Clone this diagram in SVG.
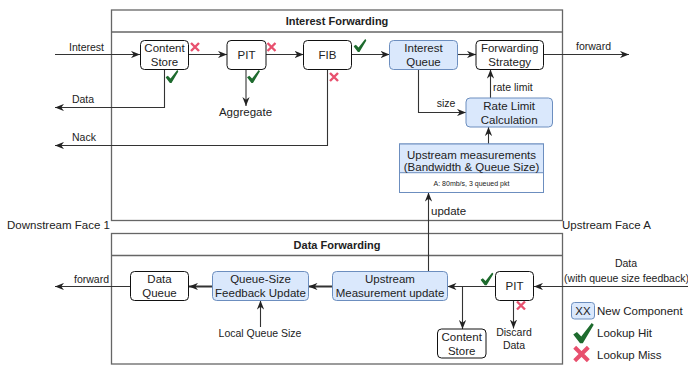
<svg xmlns="http://www.w3.org/2000/svg" width="688" height="365" viewBox="0 0 688 365">
<style>
text{font-family:"Liberation Sans",Arial,sans-serif;fill:#222}
.t{font-size:11.5px;text-anchor:middle}
.lb{font-size:10.5px}
.ttl{font-size:11px;font-weight:bold;text-anchor:middle}
.frame{fill:#fff;stroke:#666;stroke-width:1.3}
.n{fill:#fff;stroke:#111;stroke-width:1}
.b{fill:#dae8fc;stroke:#6c8ebf;stroke-width:1}
.c{fill:none;stroke:#333;stroke-width:1.1;marker-end:url(#arr)}
.cn{fill:none;stroke:#333;stroke-width:1.1}
.ck{fill:none;stroke:#333;stroke-width:2;marker-end:url(#arr)}
</style>
<defs>
<marker id="arr" viewBox="0 0 10 8" refX="10" refY="4" markerWidth="9" markerHeight="7.5" markerUnits="userSpaceOnUse" orient="auto">
<path d="M0,0 L10,4 L0,8 L3,4 Z" fill="#222"/>
</marker>
<symbol id="chk" viewBox="0 0 10 10">
<path d="M0,5.6 L1.8,4.4 L3.9,6.6 L9,0 L10,0.9 L4.6,10 L3.4,10 Z" fill="#1e6b2e"/>
</symbol>
<symbol id="x" viewBox="0 0 10 10">
<path d="M1,1 L9,9 M9,1 L1,9" stroke="#e8506e" stroke-width="2.4" stroke-linecap="butt"/>
</symbol>
</defs>
<rect width="688" height="365" fill="#fff"/>

<g id="interest-forwarding-frame">
<rect class="frame" x="111.5" y="10" width="451" height="210.5"/>
<line x1="111.5" y1="32" x2="562.5" y2="32" stroke="#666" stroke-width="1.3"/>
<text class="ttl" x="337" y="25">Interest Forwarding</text>
</g>
<g id="data-forwarding-frame">
<rect class="frame" x="111.5" y="233.5" width="451" height="130.5"/>
<line x1="111.5" y1="255.5" x2="562.5" y2="255.5" stroke="#666" stroke-width="1.3"/>
<text class="ttl" x="337" y="249">Data Forwarding</text>
</g>
<text x="7" y="229" style="font-size:11.5px">Downstream Face 1</text>
<text x="562" y="229" style="font-size:11.5px">Upstream Face A</text>

<g id="connectors">
<line class="c" x1="55" y1="54.5" x2="140" y2="54.5"/>
<line class="c" x1="188.5" y1="54.5" x2="227" y2="54.5"/>
<line class="c" x1="266" y1="54.5" x2="303.5" y2="54.5"/>
<line class="c" x1="351.5" y1="54.5" x2="389.5" y2="54.5"/>
<line class="c" x1="457.5" y1="54.5" x2="476" y2="54.5"/>
<line class="c" x1="543.5" y1="54.5" x2="629" y2="54.5"/>
<polyline class="c" points="164.5,69.5 164.5,107.5 55,107.5"/>
<line class="c" x1="246" y1="69.5" x2="246" y2="106"/>
<polyline class="c" points="327.5,69.5 327.5,145.5 55,145.5"/>
<polyline class="c" points="418.5,69.5 418.5,112.5 466,112.5"/>
<line class="c" x1="490.5" y1="98" x2="490.5" y2="69.5"/>
<line class="c" x1="488.5" y1="144" x2="488.5" y2="127"/>
<line class="c" x1="428.5" y1="271.5" x2="428.5" y2="192.5"/>
<line class="c" x1="688" y1="286.5" x2="534" y2="286.5"/>
<line class="c" x1="495.5" y1="286.5" x2="447.5" y2="286.5"/>
<line class="c" x1="462.5" y1="286.5" x2="462.5" y2="329"/>
<line class="c" x1="513.5" y1="300.5" x2="513.5" y2="328.5"/>
<line class="ck" x1="332.5" y1="286.5" x2="308.5" y2="286.5"/>
<line class="ck" x1="212.5" y1="286.5" x2="189" y2="286.5"/>
<line class="c" x1="130.5" y1="286.5" x2="55" y2="286.5"/>
<line class="c" x1="260.5" y1="327" x2="260.5" y2="300.5"/>
</g>

<g id="labels">
<text class="lb" x="86.5" y="51" text-anchor="middle">Interest</text>
<text class="lb" x="83" y="103" text-anchor="middle">Data</text>
<text class="lb" x="84" y="141" text-anchor="middle">Nack</text>
<text x="245.5" y="116" text-anchor="middle" style="font-size:11.5px">Aggregate</text>
<text class="lb" x="593.5" y="50" text-anchor="middle">forward</text>
<text class="lb" x="446" y="107" text-anchor="middle">size</text>
<text class="lb" x="493" y="91">rate limit</text>
<text x="431" y="215" style="font-size:11.5px">update</text>
<text class="lb" x="91.5" y="283" text-anchor="middle">forward</text>
<text class="lb" x="260" y="337" text-anchor="middle">Local Queue Size</text>
<text class="lb" x="626" y="267" text-anchor="middle">Data</text>
<text class="lb" x="626.5" y="281.5" text-anchor="middle">(with queue size feedback)</text>
<text class="lb" x="514" y="336" text-anchor="middle">Discard</text>
<text class="lb" x="514" y="349" text-anchor="middle">Data</text>
</g>

<g id="if-content-store">
<rect class="n" x="140.5" y="40.5" width="48" height="29" rx="4"/>
<text class="t" x="164.5" y="52">Content</text>
<text class="t" x="164.5" y="66">Store</text>
</g>
<g id="if-pit">
<rect class="n" x="227" y="40.5" width="39" height="29" rx="4"/>
<text class="t" x="246.5" y="59">PIT</text>
</g>
<g id="if-fib">
<rect class="n" x="303.5" y="40.5" width="48" height="29" rx="4"/>
<text class="t" x="327.5" y="59">FIB</text>
</g>
<g id="interest-queue">
<rect class="b" x="389.5" y="40.5" width="68" height="29" rx="4"/>
<text class="t" x="423.5" y="52">Interest</text>
<text class="t" x="423.5" y="66">Queue</text>
</g>
<g id="forwarding-strategy">
<rect class="n" x="476" y="40.5" width="67.5" height="29" rx="4"/>
<text class="t" x="509.7" y="52">Forwarding</text>
<text class="t" x="509.7" y="66">Strategy</text>
</g>
<g id="rate-limit-calculation">
<rect class="b" x="466" y="98" width="86.5" height="29" rx="4"/>
<text class="t" x="509.2" y="109.5">Rate Limit</text>
<text class="t" x="509.2" y="124">Calculation</text>
</g>
<g id="upstream-measurements">
<rect x="399.5" y="144" width="144" height="48.5" fill="#fff" stroke="#6c8ebf"/>
<rect x="399.5" y="144" width="144" height="28.7" fill="#dae8fc" stroke="#6c8ebf"/>
<text class="t" x="471.5" y="159">Upstream measurements</text>
<text class="t" x="471.5" y="170.5">(Bandwidth &amp; Queue Size)</text>
<text x="471.5" y="185.5" text-anchor="middle" style="font-size:7px">A: 80mb/s, 3 queued pkt</text>
</g>

<g id="data-queue">
<rect class="n" x="130.5" y="271.5" width="58" height="29" rx="4"/>
<text class="t" x="159.5" y="283">Data</text>
<text class="t" x="159.5" y="297">Queue</text>
</g>
<g id="queue-size-feedback-update">
<rect class="b" x="212.5" y="271.5" width="96" height="29" rx="4"/>
<text class="t" x="260.5" y="283">Queue-Size</text>
<text class="t" x="260.5" y="297">Feedback Update</text>
</g>
<g id="upstream-measurement-update">
<rect class="b" x="332.5" y="271.5" width="115" height="29" rx="4"/>
<text class="t" x="390" y="283">Upstream</text>
<text class="t" x="390" y="297">Measurement update</text>
</g>
<g id="df-pit">
<rect class="n" x="495.5" y="271.5" width="38" height="29" rx="4"/>
<text class="t" x="514.5" y="290">PIT</text>
</g>
<g id="df-content-store">
<rect class="n" x="437.5" y="329" width="48.5" height="29" rx="4"/>
<text class="t" x="461.7" y="340.5">Content</text>
<text class="t" x="461.7" y="355">Store</text>
</g>

<g id="marks">
<use href="#x" x="190" y="42" width="10" height="10"/>
<use href="#x" x="266.5" y="42" width="10" height="10"/>
<use href="#x" x="329" y="72" width="10" height="10"/>
<use href="#x" x="516" y="300.5" width="10" height="10"/>
<use href="#chk" x="165.5" y="70" width="13" height="13"/>
<use href="#chk" x="247" y="70" width="13" height="13"/>
<use href="#chk" x="353.5" y="39" width="13" height="13"/>
<use href="#chk" x="480.5" y="272.5" width="13" height="13"/>
</g>

<g id="legend">
<rect class="b" x="571.5" y="302.5" width="23" height="16.5" rx="3"/>
<text x="583" y="315" text-anchor="middle" style="font-size:11.5px">XX</text>
<text x="597" y="315" style="font-size:11.5px">New Component</text>
<use href="#chk" x="573" y="323" width="21" height="20.5"/>
<text x="597" y="337" style="font-size:11.5px">Lookup Hit</text>
<use href="#x" x="572.5" y="345.5" width="18" height="17"/>
<text x="597" y="359" style="font-size:11.5px">Lookup Miss</text>
</g>
</svg>
